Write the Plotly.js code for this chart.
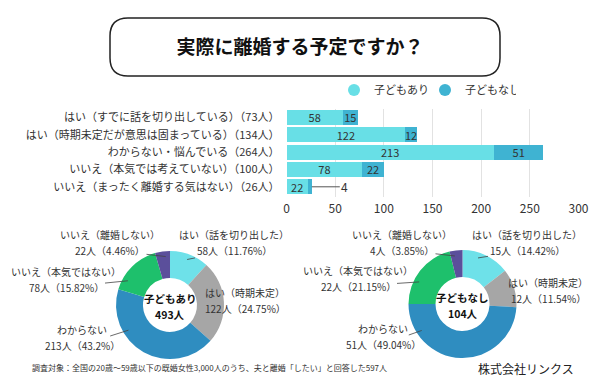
<!DOCTYPE html>
<html><head><meta charset="utf-8">
<script src="https://cdn.plot.ly/plotly-3.0.1.min.js"></script>
<style>html,body{margin:0;padding:0;background:#fff}#chart{width:600px;height:390px}</style>
</head><body><div id="chart"></div>
<script>
// ---------- data ----------
const categories = ['はい（すでに話を切り出している）', 'はい（時期未定だが意思は固まっている）', 'わからない・悩んでいる', 'いいえ（本気では考えていない）', 'いいえ（まったく離婚する気はない）'];
const pieLabels = ['はい（話を切り出した）', 'はい（時期未定）', 'わからない', 'いいえ（本気ではない）', 'いいえ（離婚しない）'];
const seriesNames = ['子どもあり', '子どもなし'];
const withChildren = [58, 122, 213, 78, 22];
const withoutChildren = [15, 12, 51, 22, 4];
const xTickValues = [0, 50, 100, 150, 200, 250, 300];
const titleText = '実際に離婚する予定ですか？';
const footnoteText = '調査対象：全国の20歳～59歳以下の既婚女性3,000人のうち、夫と離婚「したい」と回答した597人';
const creditText = '株式会社リンクス';

// ---------- style ----------
const W = 600, H = 390;
const FONT = '"Noto Sans CJK JP", "Noto Sans", sans-serif';
const barColors = ['#68dfe6', '#3fb3d2'];
const pieColors = ['#6ee1e9', '#a6a6a6', '#2f8dc0', '#1ec06c', '#5b4f9b'];
const LINE_GAP = 16;
const pies = [
  {cx: 170, cy: 305, r: 54, values: withChildren, name: seriesNames[0],
   textPos: [[234, 242], [245, 300], [82, 337], [66, 279], [110, 242]],
   tipAngle: [20.6, null, 238.8, 299.9, 355]},
  {cx: 462.5, cy: 304, r: 54, values: withoutChildren, name: seriesNames[1],
   textPos: [[527, 242], [548, 290], [383, 336], [358, 278], [402, 242]],
   tipAngle: [18.6, null, 237, 297, 351]}
];
const px = x => x / W;
const py = y => 1 - y / H;

const totals = withChildren.map((v, i) => v + withoutChildren[i]);
const catLabels = categories.map((c, i) => `${c}（${totals[i]}人）`);

const traces = [];
[withChildren, withoutChildren].forEach((vals, s) => {
  traces.push({
    type: 'bar', orientation: 'h', x: vals, y: catLabels, name: seriesNames[s],
    marker: {color: barColors[s]}, showlegend: false,
    text: vals.map(v => v >= 10 ? String(v) : ''),
    textposition: 'inside', insidetextanchor: 'middle', textangle: 0,
    constraintext: 'none', cliponaxis: false,
    textfont: {size: 11, color: '#333', family: FONT},
    xaxis: 'x', yaxis: 'y', hoverinfo: 'x+name'
  });
});
[0, 1].forEach(s => {
  traces.push({
    type: 'scatter', mode: 'markers', x: [null], y: [null], name: seriesNames[s],
    marker: {color: barColors[s], size: 12, symbol: 'circle'}, xaxis: 'x', yaxis: 'y'
  });
});

const annotations = [];
// small bar segment labels with leader
withoutChildren.forEach((v, i) => {
  if (v < 10) {
    annotations.push({x: totals[i], y: catLabels[i], xref: 'x', yref: 'y', text: String(v),
      showarrow: true, arrowhead: 0, arrowwidth: 1, arrowcolor: '#555', ax: 33, ay: 0,
      font: {size: 12, color: '#333', family: FONT}});
  }
});

const fmtPct = p => String(parseFloat(p.toFixed(2)));
const labelFont = {size: 10, color: '#333', family: FONT};
const centerFont = {size: 10.5, color: '#111', family: FONT};
pies.forEach(p => {
  const total = p.values.reduce((a, b) => a + b, 0);
  traces.push({
    type: 'pie', values: p.values, labels: pieLabels, sort: false, direction: 'clockwise',
    hole: 0.5, textinfo: 'none', showlegend: false, name: p.name,
    marker: {colors: pieColors, line: {width: 0}},
    domain: {x: [px(p.cx - p.r), px(p.cx + p.r)], y: [py(p.cy + p.r), py(p.cy - p.r)]}
  });
  // centre label (two lines)
  annotations.push({x: px(p.cx), y: py(p.cy - 7), xref: 'paper', yref: 'paper', text: `<b>${p.name}</b>`,
    xanchor: 'center', yanchor: 'middle', showarrow: false, font: centerFont});
  annotations.push({x: px(p.cx), y: py(p.cy + 9), xref: 'paper', yref: 'paper', text: `<b>${total}人</b>`,
    xanchor: 'center', yanchor: 'middle', showarrow: false, font: centerFont});
  p.values.forEach((v, i) => {
    const line1 = pieLabels[i];
    const line2 = `${v}人（${fmtPct(v / total * 100)}%）`;
    const [tx, ty] = p.textPos[i];
    const y1 = ty - LINE_GAP / 2, y2 = ty + LINE_GAP / 2;
    annotations.push({x: px(tx), y: py(y1), xref: 'paper', yref: 'paper', text: line1,
      xanchor: 'center', yanchor: 'middle', showarrow: false, font: labelFont});
    const a = p.tipAngle[i];
    if (a === null) {
      annotations.push({x: px(tx), y: py(y2), xref: 'paper', yref: 'paper', text: line2,
        xanchor: 'center', yanchor: 'middle', showarrow: false, font: labelFont});
    } else {
      const rr = p.r * 0.9;
      const tipX = p.cx + rr * Math.sin(a * Math.PI / 180);
      const tipY = p.cy - rr * Math.cos(a * Math.PI / 180);
      annotations.push({x: px(tipX), y: py(tipY), xref: 'paper', yref: 'paper', text: line2,
        showarrow: true, arrowhead: 0, arrowwidth: 0.8, arrowcolor: '#444', standoff: 0,
        ax: tx - tipX, ay: y2 - tipY, font: labelFont});
    }
  });
});

annotations.push({x: px(30), y: py(367), xref: 'paper', yref: 'paper', xanchor: 'left', yanchor: 'middle',
  text: footnoteText, showarrow: false, font: {size: 8, color: '#333', family: FONT}});
annotations.push({x: px(576), y: py(368), xref: 'paper', yref: 'paper', xanchor: 'right', yanchor: 'middle',
  text: creditText, showarrow: false, font: {size: 12, color: '#222', family: FONT}});

// rounded title box
const bx0 = 110, bx1 = 500, by0 = 18, by1 = 76, br = 18;
const P = (x, y) => `${px(x)},${py(y)}`;
const boxPath = `M ${P(bx0 + br, by0)} L ${P(bx1 - br, by0)} Q ${P(bx1, by0)} ${P(bx1, by0 + br)} ` +
  `L ${P(bx1, by1 - br)} Q ${P(bx1, by1)} ${P(bx1 - br, by1)} L ${P(bx0 + br, by1)} ` +
  `Q ${P(bx0, by1)} ${P(bx0, by1 - br)} L ${P(bx0, by0 + br)} Q ${P(bx0, by0)} ${P(bx0 + br, by0)} Z`;

const layout = {
  width: W, height: H, autosize: false,
  margin: {l: 0, r: 0, t: 0, b: 0},
  paper_bgcolor: '#fff', plot_bgcolor: '#fff',
  font: {family: FONT, color: '#333'},
  title: {text: `<b>${titleText}</b>`, x: 0.5, xanchor: 'center', y: py(47), yanchor: 'middle',
    font: {size: 19, color: '#111', family: FONT}},
  barmode: 'stack', bargap: 0.14,
  xaxis: {domain: [px(286.5), px(578.5)], range: [0, 300], tickvals: xTickValues,
    showgrid: true, gridcolor: '#e2e2e2', gridwidth: 1, zeroline: false, showline: false,
    ticklabelstandoff: 3,
    tickfont: {size: 12, color: '#333', family: FONT}, automargin: false, fixedrange: true},
  yaxis: {domain: [py(197.3), py(108.8)], autorange: 'reversed', type: 'category',
    showgrid: false, zeroline: false, showline: false, ticks: '', ticklabelstandoff: 6,
    tickfont: {size: 11, color: '#333', family: FONT}, automargin: false, fixedrange: true},
  showlegend: true,
  legend: {orientation: 'h', x: px(334), xanchor: 'left', y: py(90), yanchor: 'middle',
    traceorder: 'normal',
    font: {size: 11, color: '#333', family: FONT}, bgcolor: 'rgba(0,0,0,0)',
    entrywidth: 46, entrywidthmode: 'pixels', itemclick: false},
  shapes: [{type: 'path', xref: 'paper', yref: 'paper', path: boxPath,
    line: {color: '#222', width: 1.5}, fillcolor: 'rgba(0,0,0,0)', layer: 'below'}],
  annotations: annotations
};

Plotly.newPlot('chart', traces, layout, {displayModeBar: false, staticPlot: true});
</script>
</body></html>
